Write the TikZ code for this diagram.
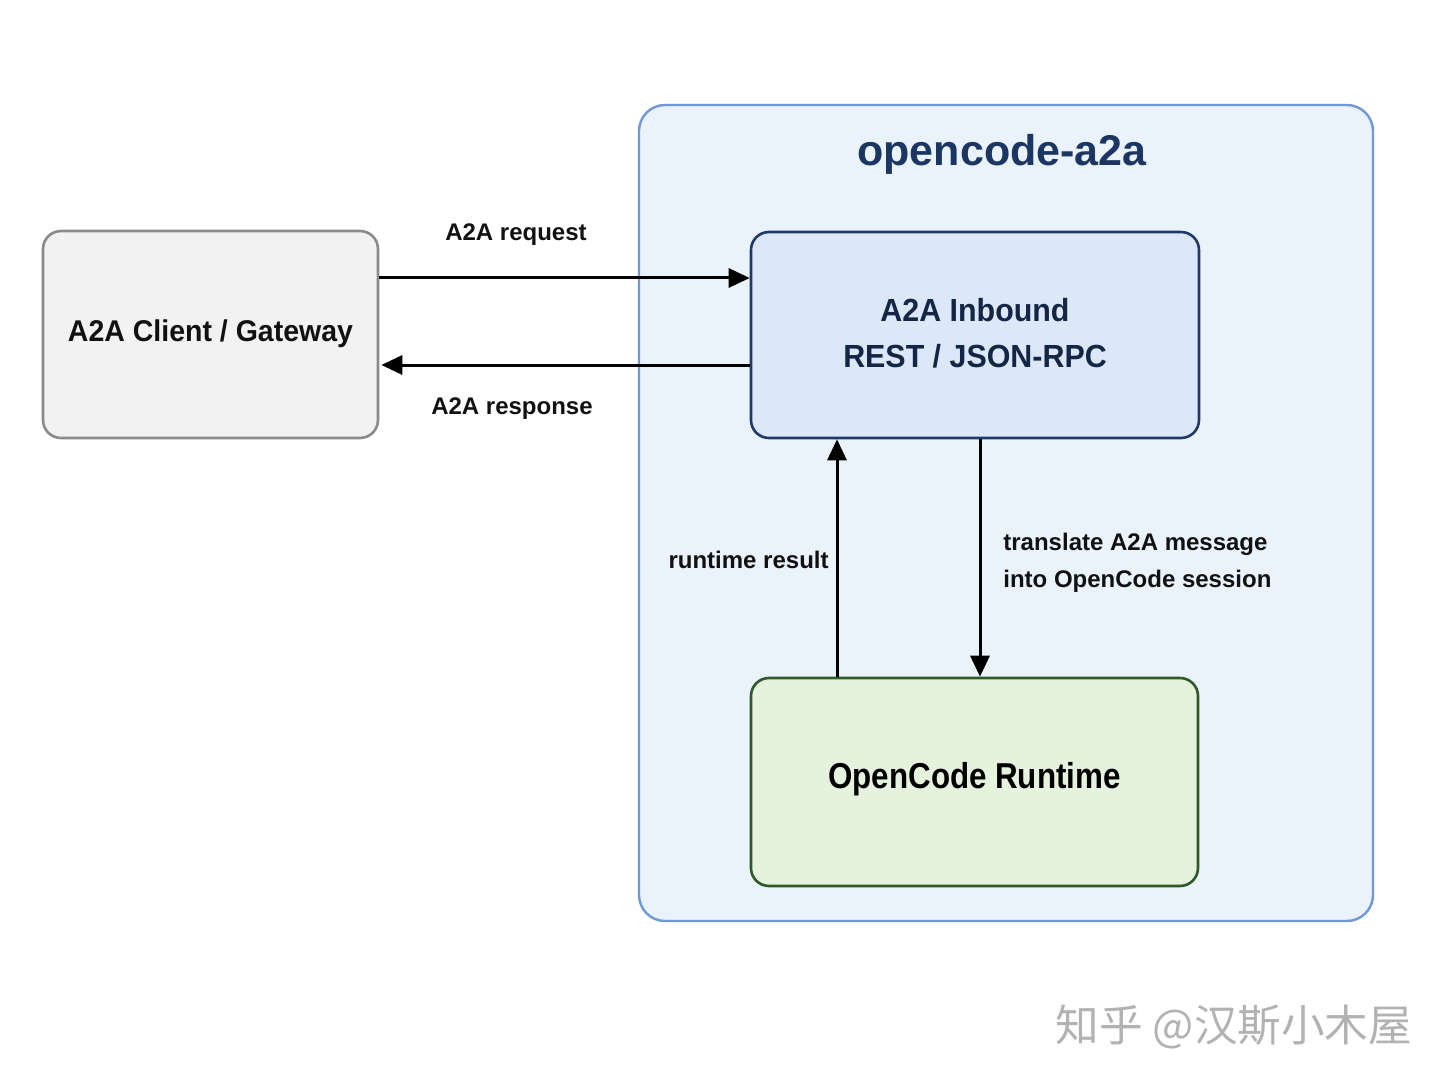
\documentclass[tikz,border=0pt]{standalone}
\usepackage{fontspec}
\setmainfont{Liberation Sans}
\newfontfamily\fontA{Liberation Sans}[FakeStretch=0.95]
\newfontfamily\fontB{Liberation Sans}[FakeStretch=0.87]
\newfontfamily\cjkfont{Noto Sans CJK SC}
\usetikzlibrary{arrows.meta,calc}
\definecolor{outerfill}{HTML}{EAF2FC}
\definecolor{outerdraw}{HTML}{6F98D4}
\definecolor{navy}{HTML}{1C3663}
\definecolor{inbfill}{HTML}{DCE8F8}
\definecolor{inbdraw}{HTML}{1F3A68}
\definecolor{rtfill}{HTML}{E5F2DD}
\definecolor{rtdraw}{HTML}{2E5A2A}
\definecolor{clfill}{HTML}{F2F2F2}
\definecolor{cldraw}{HTML}{8A8A8A}
\definecolor{labtext}{HTML}{111111}
\begin{document}
\begin{tikzpicture}[x=0.5pt,y=-0.5pt,
  box/.style={rounded corners=9pt, line width=1.3pt, inner sep=0pt},
  flow/.style={line width=1.5pt, draw=black, -{Triangle[length=10.5pt,width=9.5pt]}},
  lab/.style={font=\fontsize{12}{14}\selectfont\bfseries, text=labtext, inner sep=0pt},
  boxtext/.style={font=\fontA\fontsize{16}{23}\selectfont\bfseries, align=center}]
\useasboundingbox[fill=white] (0,0) rectangle (1448,1086);
% container
\node[box, draw=outerdraw, fill=outerfill, rounded corners=13pt, line width=1.2pt,
  minimum width=367pt, minimum height=408pt] (outer) at (1006,513) {};
\node[font=\fontsize{21.5}{24}\selectfont\bfseries, text=navy] (title) at (1002,154) {opencode-a2a};
% boxes
\node[box, draw=cldraw, fill=clfill, minimum width=167.5pt, minimum height=103.5pt] (client) at (210.5,334.5) {};
\node[boxtext, font=\fontA\fontsize{15}{18}\selectfont\bfseries, text=labtext] at ($(client.center)+(0,-1)$) {A2A Client / Gateway};
\node[box, draw=inbdraw, fill=inbfill, minimum width=224pt, minimum height=103pt] (inb) at (975,335) {};
\node[boxtext, text=navy!70!black] at ($(inb.center)+(0,-2)$) {A2A Inbound\\REST / JSON-RPC};
\node[box, draw=rtdraw, fill=rtfill, minimum width=223.5pt, minimum height=104pt] (rt) at (974.5,782) {};
\node[boxtext, font=\fontB\fontsize{18}{22}\selectfont\bfseries, text=black] at ($(rt.center)+(0,-3)$) {OpenCode Runtime};
% connectors
\coordinate (rq) at (client.east |- 0,278);
\draw[flow] (rq) -- (rq -| inb.west);
\coordinate (rs) at (inb.west |- 0,365);
\draw[flow] (rs) -- ([xshift=1pt]rs -| client.east);
\coordinate (up) at (837,0);
\draw[flow] (up |- rt.north) -- (up |- inb.south);
\coordinate (dn) at (980,0);
\draw[flow] (dn |- inb.south) -- (dn |- rt.north);
% labels
\node[lab] (lreq) at (516,235) {A2A request};
\node[lab] (lres) at (512,409) {A2A response};
\node[lab, anchor=east] (lrr) at (829,560) {runtime result};
\node[lab, anchor=west, align=left, font=\fontsize{12}{18.5}\selectfont\bfseries] (ltr) at (1003,563) {translate A2A message\\into OpenCode session};
% watermark
\node[font=\cjkfont\fontsize{21.8}{24}\selectfont, text=black!30] (wm) at (1234,1027) {知乎 @汉斯小木屋};
\end{tikzpicture}
\end{document}
